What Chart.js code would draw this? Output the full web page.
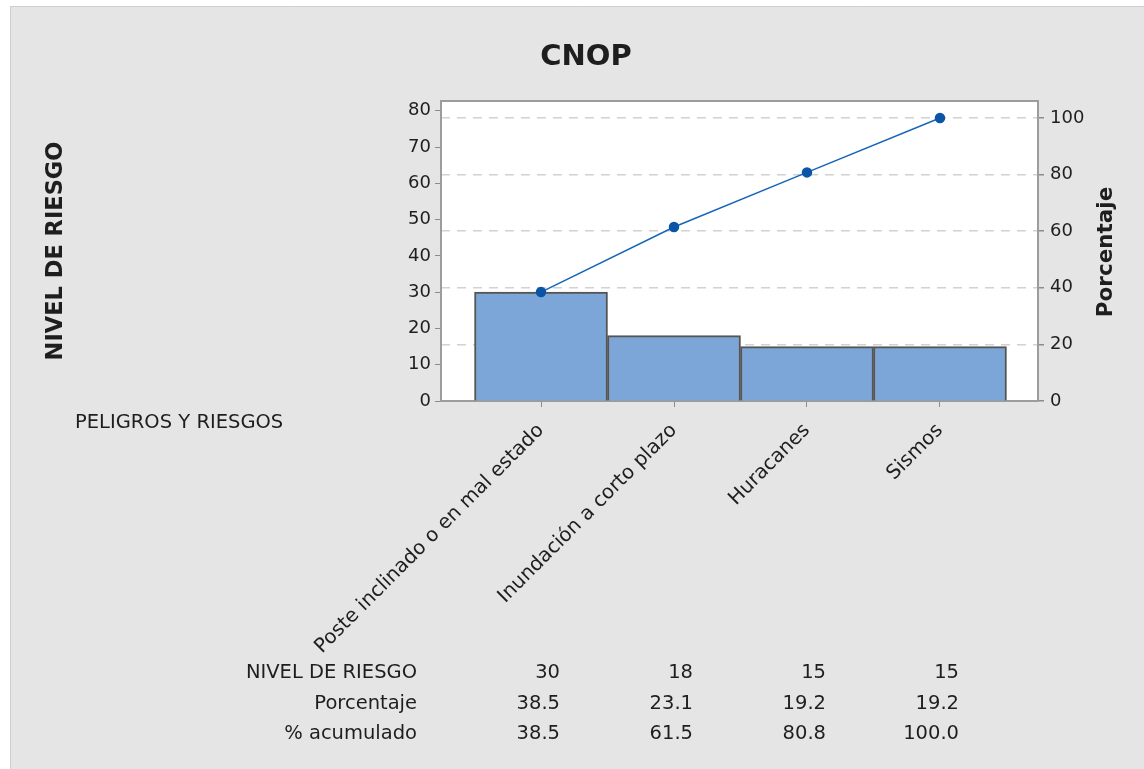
<!DOCTYPE html>
<html>
<head>
<meta charset="utf-8">
<script src="https://cdn.jsdelivr.net/npm/chart.js@4/dist/chart.umd.min.js"></script>
<style>
  html, body { margin: 0; padding: 0; background: #fff; }
  #wrap { width: 1144px; height: 769px; }
</style>
</head>
<body>
<div id="wrap"><canvas id="myChart" width="1144" height="769"></canvas></div>
<script>
const categories = ['Poste inclinado o en mal estado', 'Inundación a corto plazo', 'Huracanes', 'Sismos'];
const nivel = [30, 18, 15, 15];
const porcentaje = [38.5, 23.1, 19.2, 19.2];
const acumulado = [38.5, 61.5, 80.8, 100.0];
const leftTicks = [0, 10, 20, 30, 40, 50, 60, 70, 80];
const rightTicks = [0, 20, 40, 60, 80, 100];
const tableRows = [
  ['NIVEL DE RIESGO', nivel.map(v => String(v))],
  ['Porcentaje', porcentaje.map(v => v.toFixed(1))],
  ['% acumulado', acumulado.map(v => v.toFixed(1))]
];

const FONT = '"DejaVu Sans", "Open Sans", sans-serif';
const TEXT = '#1e1e1e';
const total = nivel.reduce((a, b) => a + b, 0);
const leftMax = 82.7;

const extras = {
  id: 'extras',
  beforeDraw(chart) {
    const c = chart.ctx;
    const a = chart.chartArea;
    c.save();
    c.fillStyle = '#e5e5e5';
    c.fillRect(10, 6, chart.width - 10, chart.height - 6);
    c.strokeStyle = '#cfcfcf';
    c.lineWidth = 1;
    c.beginPath();
    c.moveTo(10.5, chart.height);
    c.lineTo(10.5, 6.5);
    c.lineTo(chart.width, 6.5);
    c.stroke();
    c.fillStyle = '#fff';
    c.fillRect(a.left, a.top, a.right - a.left, a.bottom - a.top);
    c.restore();
  },
  afterDraw(chart) {
    const c = chart.ctx;
    const a = chart.chartArea;
    const xs = chart.scales.x;
    c.save();
    // frame top
    c.strokeStyle = '#9c9c9c';
    c.lineWidth = 2;
    c.beginPath();
    c.moveTo(a.left, a.top);
    c.lineTo(a.right, a.top);
    c.stroke();

    c.fillStyle = TEXT;
    c.textBaseline = 'middle';
    c.textAlign = 'center';
    c.font = 'bold 29px ' + FONT;
    c.fillText('CNOP', 586, 57);

    c.font = 'bold 22.5px ' + FONT;
    c.save();
    c.translate(56, 251);
    c.rotate(-Math.PI / 2);
    c.fillText('NIVEL DE RIESGO', 0, 0);
    c.restore();
    c.font = 'bold 21.5px ' + FONT;
    c.save();
    c.translate(1106, 252);
    c.rotate(-Math.PI / 2);
    c.fillText('Porcentaje', 0, 0);
    c.restore();

    c.font = '19.5px ' + FONT;
    c.textAlign = 'left';
    c.fillText('PELIGROS Y RIESGOS', 75, 423);

    const rowY = [673, 704, 734];
    tableRows.forEach((row, r) => {
      c.textAlign = 'right';
      c.fillText(row[0], 417, rowY[r]);
      row[1].forEach((t, i) => {
        c.fillText(t, xs.getPixelForValue(i) + 19, rowY[r]);
      });
    });
    c.restore();
  }
};

new Chart(document.getElementById('myChart'), {
  type: 'bar',
  data: {
    datasets: [
      {
        type: 'line',
        label: '% acumulado',
        data: acumulado.map((v, i) => ({ x: i, y: v })),
        yAxisID: 'y1',
        xAxisID: 'x',
        borderColor: '#1565b8',
        borderWidth: 1.5,
        pointRadius: 4.5,
        pointBackgroundColor: '#0a55a6',
        pointBorderColor: '#0a55a6',
        order: 1
      },
      {
        type: 'bar',
        label: 'NIVEL DE RIESGO',
        data: nivel.map((v, i) => ({ x: i, y: v })),
        yAxisID: 'y',
        xAxisID: 'x',
        backgroundColor: '#7da6d8',
        borderColor: '#555555',
        borderWidth: 2,
        barPercentage: 1,
        categoryPercentage: 1,
        order: 2
      }
    ]
  },
  options: {
    responsive: false,
    animation: false,
    layout: { padding: { top: 101, left: 0, right: 0, bottom: 0 } },
    plugins: {
      legend: { display: false },
      tooltip: { enabled: false },
      title: { display: false }
    },
    scales: {
      x: {
        type: 'linear',
        position: 'bottom',
        offset: false,
        min: -0.752,
        max: 3.737,
        afterBuildTicks: s => { s.ticks = categories.map((c, i) => ({ value: i })); },
        afterFit: s => { s.height = 368; },
        ticks: {
          autoSkip: false,
          minRotation: 45,
          maxRotation: 45,
          padding: 12,
          color: TEXT,
          font: { family: FONT, size: 19.8 },
          callback: v => categories[v]
        },
        grid: { offset: false, drawOnChartArea: false, drawTicks: true, tickLength: 6, color: '#8c8c8c' },
        border: { color: '#9c9c9c', width: 2 }
      },
      y: {
        position: 'left',
        min: 0,
        max: leftMax,
        afterBuildTicks: s => { s.ticks = leftTicks.map(v => ({ value: v })); },
        afterFit: s => { s.width = 441; },
        ticks: { color: TEXT, padding: 4, font: { family: FONT, size: 18 } },
        grid: { drawOnChartArea: false, tickLength: 6, color: '#8c8c8c' },
        border: { color: '#9c9c9c', width: 2 }
      },
      y1: {
        position: 'right',
        min: 0,
        max: leftMax * 100 / total,
        afterBuildTicks: s => { s.ticks = rightTicks.map(v => ({ value: v })); },
        afterFit: s => { s.width = 1144 - 1038; },
        ticks: { color: TEXT, padding: 6, font: { family: FONT, size: 18 } },
        grid: {
          drawOnChartArea: true,
          tickLength: 6,
          color: '#d2d2d2',
          lineWidth: 1.5,
          tickColor: '#8c8c8c',
          tickBorderDash: []
        },
        border: { color: '#9c9c9c', width: 2, dash: [9, 7] }
      }
    }
  },
  plugins: [extras]
});
</script>
</body>
</html>
